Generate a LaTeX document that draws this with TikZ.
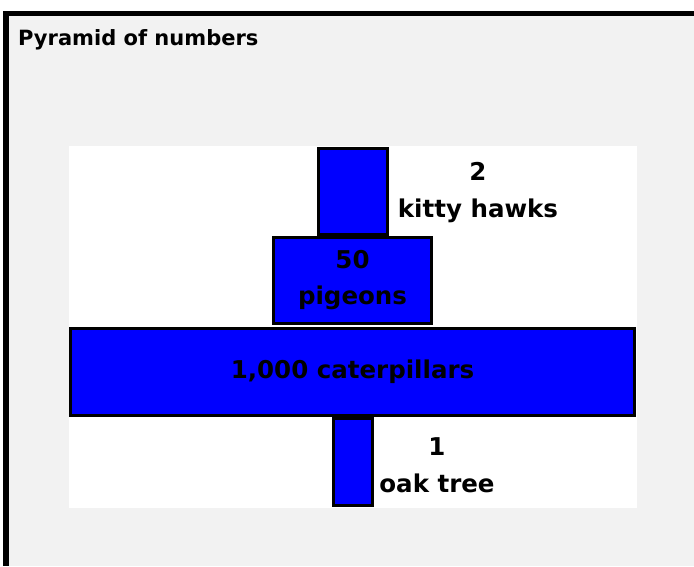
\documentclass[tikz,border=0pt]{standalone}
\usepackage{fontspec}
\setmainfont{DejaVu Sans}
\usepackage{tikz}
\usetikzlibrary{positioning}
\definecolor{barblue}{RGB}{0,0,255}
\definecolor{pagegray}{RGB}{242,242,242}
\tikzset{
  bar/.style={rectangle, draw=black, fill=barblue, line width=3pt, inner sep=0pt, align=center,
    font=\fontsize{24.5}{36}\selectfont\bfseries},
  lbl/.style={align=center, inner sep=0pt, font=\fontsize{24.5}{37}\selectfont\bfseries}
}

\begin{document}
\begin{tikzpicture}[x=1pt, y=-1pt]
\useasboundingbox (0,0) rectangle (694,566);
%--- frame ---
\fill[pagegray] (6,13.5) rectangle (694,566);
\draw[line width=5.5pt] (694,13.5) -- (6,13.5) -- (6,566);
\node[lbl, anchor=base west, font=\fontsize{21}{25}\selectfont\bfseries] (title) at (18,45) {Pyramid of numbers};
% white panel
\fill[white] (69,146) rectangle (637,508);

%--- levels ---
\node[bar, minimum width=69, minimum height=86] (hawks) at (353,191.5) {};
\node[bar, minimum width=158, minimum height=86] (pigeons) at (352.5,280.5) {50\\pigeons};
\node[bar, minimum width=564, minimum height=87] (caterpillars) at (352.5,372) {1,000 caterpillars};
\node[bar, minimum width=39, minimum height=87] (oak) at (353,462) {};

%--- side labels ---
\node[lbl] (hawkslbl) at (478,193) {2\\kitty hawks};
\node[lbl] (oaklbl) at (437,465) {1\\oak tree};
\end{tikzpicture}
\end{document}
